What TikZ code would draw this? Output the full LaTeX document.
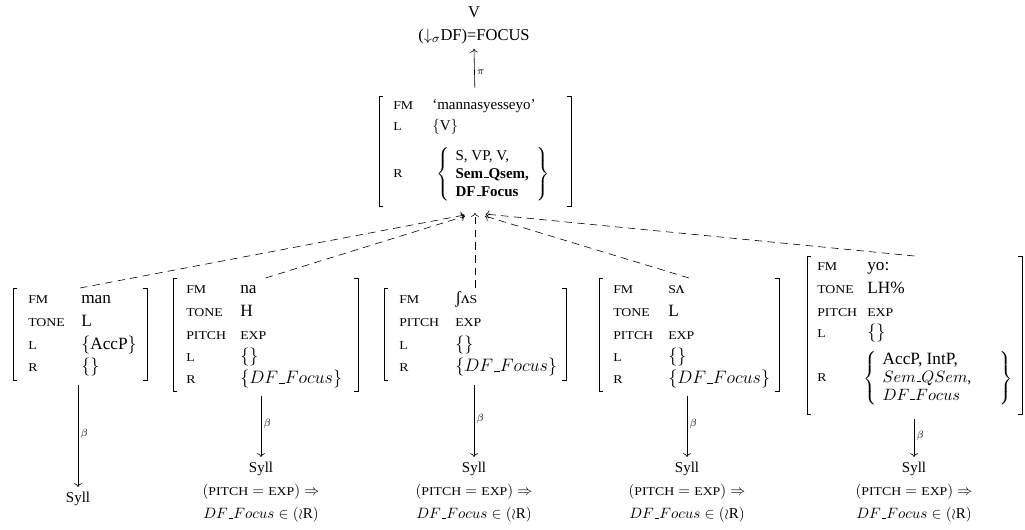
\documentclass[tikz,border=0pt]{standalone}
\usepackage{fontspec}
\setmainfont{Liberation Serif}
\newfontfamily\scfont[FakeStretch=1.15]{Liberation Serif}
\usetikzlibrary{arrows.meta}
\newcommand\fsc[1]{{\scfont\fontsize{8}{9}\selectfont #1}}
\newcommand\us{\kern.06em\vbox{\hrule width.3em}}
\newcommand\bigval[1]{{\fontsize{12}{13}\selectfont #1}}
\newcommand\smath[1]{{\fontsize{10.5}{12}\selectfont #1}}
\def\pxu{0.6667pt}
\tikzset{
  avmnode/.style={draw=none, inner sep=0pt, outer sep=0pt},
  brk/.style={line width=0.5pt},
  lab/.style={anchor=base west, inner sep=0pt, font=\scfont\fontsize{8}{9}\selectfont},
  val/.style={anchor=base west, inner sep=0pt, font=\fontsize{11.5}{13}\selectfont},
  tval/.style={anchor=base west, inner sep=0pt},
  setbr/.style={anchor=west, inner sep=0pt},
  dep/.style={dash pattern=on 5pt off 3.5pt, ->},
  proj/.style={->},
  lbl/.style={font=\scriptsize, inner sep=1.5pt},
  syll/.style={anchor=north, align=center, font=\fontsize{10}{15.3}\selectfont},
}
\newcommand\avmbox[5]{%
  \node[avmnode, minimum width={(#4-#2)*\pxu}, minimum height={(#5-#3)*\pxu}] (#1) at ({(#2+#4)/2},{(#3+#5)/2}) {};
  \draw[brk] ([xshift=4*\pxu]#1.north west) -- (#1.north west) -- (#1.south west) -- ([xshift=4*\pxu]#1.south west);
  \draw[brk] ([xshift=-4*\pxu]#1.north east) -- (#1.north east) -- (#1.south east) -- ([xshift=-4*\pxu]#1.south east);
}
\newcommand\avmrow[6]{\node[lab] (#1l) at (#2,#4) {#5}; \node[val] (#1v) at (#3,#4) {#6};}
\newcommand\tavmrow[6]{\node[lab] (#1l) at (#2,#4) {#5}; \node[tval] (#1v) at (#3,#4) {#6};}
\newcommand\prule{$(\mbox{\fsc{PITCH}} = \mbox{\fsc{EXP}}) \Rightarrow$\\$DF\us Focus \in (\wr\mathrm{R})$}
\begin{document}
\begin{tikzpicture}[x=0.6667pt,y=-0.6667pt]
\useasboundingbox (0,0) rectangle (1025,530);

% top
\node[syll, font=\fontsize{11}{15.3}\selectfont] (v) at (474,1) {V\\(${\downarrow_\sigma}$DF)=FOCUS};
\avmbox{t}{379}{96}{571}{206}
\tavmrow{tfm}{393}{432}{109.5}{FM}{`mannasyesseyo'}
\tavmrow{tl}{393}{432}{131}{L}{$\{$V$\}$}
\node[lab] (trl) at (393,178) {R};
\node[setbr] (trv) at (436,174.5) {$\left\{\begin{tabular}{@{\hspace{4pt}}l@{\hspace{5pt}}}S, VP, V,\\ \textbf{Sem\us Qsem,}\\ \textbf{DF\us Focus}\end{tabular}\right\}$};
\draw[proj, shorten <=5.3pt] (t.north) -- node[lbl, right] (pi) {$\pi$} (v.south);
\coordinate (apex) at ([yshift=-4.7pt]t.south);

% AVM 1
\avmbox{a1}{13}{288}{147}{380}
\avmrow{a1fm}{28}{81}{304}{FM}{man}
\avmrow{a1tn}{28}{81}{326.5}{TONE}{$\mathrm{L}$}
\avmrow{a1l}{28}{81}{349}{L}{$\{$AccP$\}$}
\avmrow{a1r}{28}{81}{371.5}{R}{$\{\}$}

% AVM 2
\avmbox{a2}{173}{278}{358}{391}
\avmrow{a2fm}{186}{240}{294}{FM}{na}
\avmrow{a2tn}{186}{240}{316.5}{TONE}{$\mathrm{H}$}
\avmrow{a2p}{186}{240}{339}{PITCH}{\fsc{EXP}}
\avmrow{a2l}{186}{240}{361.5}{L}{$\{\}$}
\avmrow{a2r}{186}{240}{384}{R}{\bigval{$\{DF\us Focus\}$}}

% AVM 3
\avmbox{a3}{384}{288}{566}{380}
\avmrow{a3fm}{399}{455}{304}{FM}{ʃʌ\fsc{S}}
\avmrow{a3p}{399}{455}{326.5}{PITCH}{\fsc{EXP}}
\avmrow{a3l}{399}{455}{349}{L}{$\{\}$}
\avmrow{a3r}{399}{455}{371.5}{R}{\bigval{$\{DF\us Focus\}$}}

% AVM 4
\avmbox{a4}{599}{278}{779}{391}
\avmrow{a4fm}{613}{668}{294}{FM}{\fsc{S}ʌ}
\avmrow{a4tn}{613}{668}{316.5}{TONE}{$\mathrm{L}$}
\avmrow{a4p}{613}{668}{339}{PITCH}{\fsc{EXP}}
\avmrow{a4l}{613}{668}{361.5}{L}{$\{\}$}
\avmrow{a4r}{613}{668}{384}{R}{\bigval{$\{DF\us Focus\}$}}

% AVM 5
\avmbox{a5}{807}{256}{1022}{414}
\avmrow{a5fm}{817}{867}{271}{FM}{yo:}
\avmrow{a5tn}{817}{867}{293.5}{TONE}{$\mathrm{LH}\%$}
\avmrow{a5p}{817}{867}{316}{PITCH}{\fsc{EXP}}
\avmrow{a5l}{817}{867}{337.5}{L}{$\{\}$}
\node[lab] (a5rl) at (817,381.5) {R};
\node[setbr, font=\fontsize{11.5}{12}\selectfont] (a5rv) at (863,378.5) {$\left\{\begin{tabular}{@{\hspace{4pt}}p{78pt}@{}}AccP, IntP,\\ \smath{$Sem\us QSem$,}\\ \smath{$DF\us Focus$}\end{tabular}\right\}$};

% dashed connectors
\draw[dep] (a3.north) -- (apex);
\foreach \n in {a1,a2,a4,a5} \draw[dep, shorten >=7pt] (\n.north) -- (apex);

% syllables
\node[syll] (s1) at (78,487) {Syll};
\node[syll] (s2) at (261,457) {Syll\\\prule};
\node[syll] (s3) at (474,457) {Syll\\\prule};
\node[syll] (s4) at (687,457) {Syll\\\prule};
\node[syll] (s5) at (914,457) {Syll\\\prule};

\foreach \i in {1,...,5}
  \draw[proj, shorten <=3.3pt] (a\i.south -| s\i.north) -- node[lbl, right] (b\i) {$\beta$} (s\i.north);
\end{tikzpicture}
\end{document}
